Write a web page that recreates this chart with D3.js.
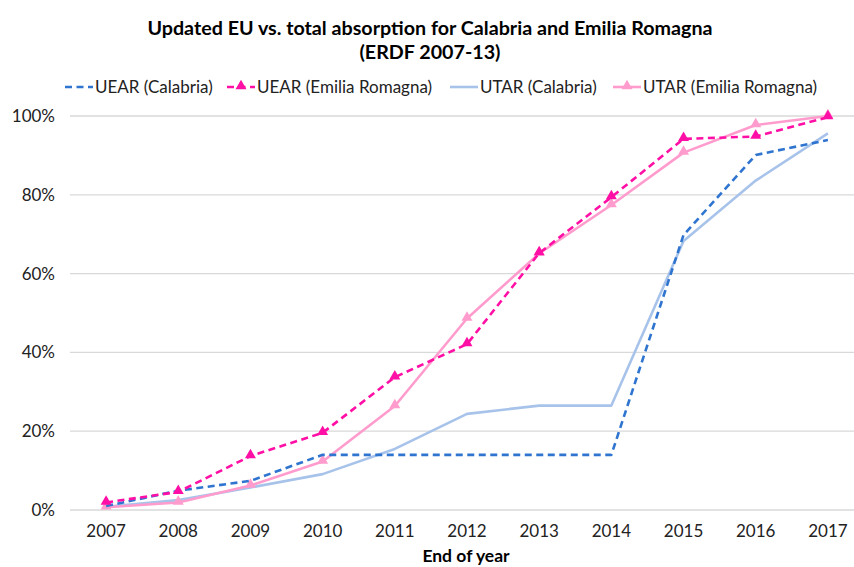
<!DOCTYPE html>
<html>
<head>
<meta charset="utf-8">
<script src="https://cdn.jsdelivr.net/npm/d3@7"></script>
<style>
  body { margin: 0; background: #fff; }
  svg { display: block; font-family: Lato, "Open Sans", sans-serif; }
</style>
</head>
<body>
<svg id="chart" width="854" height="567"></svg>
<script>
"use strict";

const years = ["2007", "2008", "2009", "2010", "2011", "2012", "2013", "2014", "2015", "2016", "2017"];
const yTicks = [0, 0.2, 0.4, 0.6, 0.8, 1.0];

const uearCalabria = [0.010, 0.049, 0.074, 0.140, 0.140, 0.140, 0.140, 0.140, 0.698, 0.901, 0.939];
const uearEmilia = [0.019, 0.046, 0.137, 0.196, 0.337, 0.421, 0.652, 0.794, 0.942, 0.948, 0.997];
const utarCalabria = [0.008, 0.025, 0.057, 0.091, 0.155, 0.244, 0.265, 0.265, 0.683, 0.836, 0.956];
const utarEmilia = [0.007, 0.019, 0.062, 0.123, 0.264, 0.486, 0.651, 0.774, 0.907, 0.977, 1.000];

const series = [
  { name: "UEAR (Calabria)", values: uearCalabria, color: "#2f75cf", dash: "7,4.5", width: 2.6, marker: false },
  { name: "UEAR (Emilia Romagna)", values: uearEmilia, color: "#ff0fa5", dash: "7,4.5", width: 2.6, marker: true },
  { name: "UTAR (Calabria)", values: utarCalabria, color: "#a8c3ea", dash: null, width: 2.6, marker: false },
  { name: "UTAR (Emilia Romagna)", values: utarEmilia, color: "#ff9ccd", dash: null, width: 2.6, marker: true }
];

const svg = d3.select("#chart");
const margin = { left: 70, right: -10, top: 116, bottom: 57 };
const width = 854, height = 567;

const x = d3.scalePoint().domain(years).range([margin.left, width - margin.right]).padding(0.5);
const y = d3.scaleLinear().domain([0, 1]).range([510, 116]);

// title
const title = svg.append("g")
  .attr("text-anchor", "middle")
  .style("font-weight", "bold")
  .style("font-size", "19.7px")
  .attr("fill", "#000");
title.append("text").attr("x", 430).attr("y", 35).text("Updated EU vs. total absorption for Calabria and Emilia Romagna");
title.append("text").attr("x", 430).attr("y", 59).text("(ERDF 2007-13)");

// grid
svg.append("g")
  .selectAll("line")
  .data(yTicks)
  .join("line")
  .attr("x1", 70).attr("x2", 854)
  .attr("y1", d => y(d)).attr("y2", d => y(d))
  .attr("stroke", "#d9d9d9")
  .attr("stroke-width", 1.3);

// y axis labels
svg.append("g")
  .attr("text-anchor", "end")
  .style("font-size", "17px")
  .selectAll("text")
  .data(yTicks)
  .join("text")
  .attr("x", 55)
  .attr("y", d => y(d) + 6)
  .attr("fill", "#222")
  .text(d => d3.format(".0%")(d));

// x axis labels
svg.append("g")
  .attr("text-anchor", "middle")
  .style("font-size", "17px")
  .selectAll("text")
  .data(years)
  .join("text")
  .attr("x", d => x(d))
  .attr("y", 537)
  .attr("fill", "#222")
  .text(d => d);

svg.append("text")
  .attr("x", 466).attr("y", 562)
  .attr("text-anchor", "middle")
  .style("font-weight", "bold")
  .style("font-size", "17.5px")
  .text("End of year");

const line = d3.line()
  .x((d, i) => x(years[i]))
  .y(d => y(d));

const tri = d3.symbol().type(d3.symbolTriangle).size(52);

// draw order: light lines first, then dashed on top
const order = [2, 3, 0, 1];
order.forEach(k => {
  const s = series[k];
  const g = svg.append("g");
  g.append("path")
    .datum(s.values)
    .attr("d", line)
    .attr("fill", "none")
    .attr("stroke", s.color)
    .attr("stroke-width", s.width)
    .attr("stroke-dasharray", s.dash)
    .attr("stroke-linejoin", "round");
  if (s.marker) {
    g.selectAll("path.m")
      .data(s.values)
      .join("path")
      .attr("class", "m")
      .attr("d", tri)
      .attr("transform", (d, i) => `translate(${x(years[i])},${y(d) - 1})`)
      .attr("fill", s.color);
  }
});

// legend
const legendX = [65, 227, 450, 613];
const legend = svg.append("g").style("font-size", "17px");
series.forEach((s, i) => {
  const g = legend.append("g").attr("transform", `translate(${legendX[i]},87)`);
  g.append("line")
    .attr("x1", 0).attr("x2", 28).attr("y1", 0).attr("y2", 0)
    .attr("stroke", s.color)
    .attr("stroke-width", s.width)
    .attr("stroke-dasharray", s.dash);
  if (s.marker) {
    g.append("path").attr("d", tri).attr("transform", "translate(14,-1)").attr("fill", s.color);
  }
  g.append("text").attr("x", 30).attr("y", 6).attr("fill", "#222").text(s.name);
});
</script>
</body>
</html>
